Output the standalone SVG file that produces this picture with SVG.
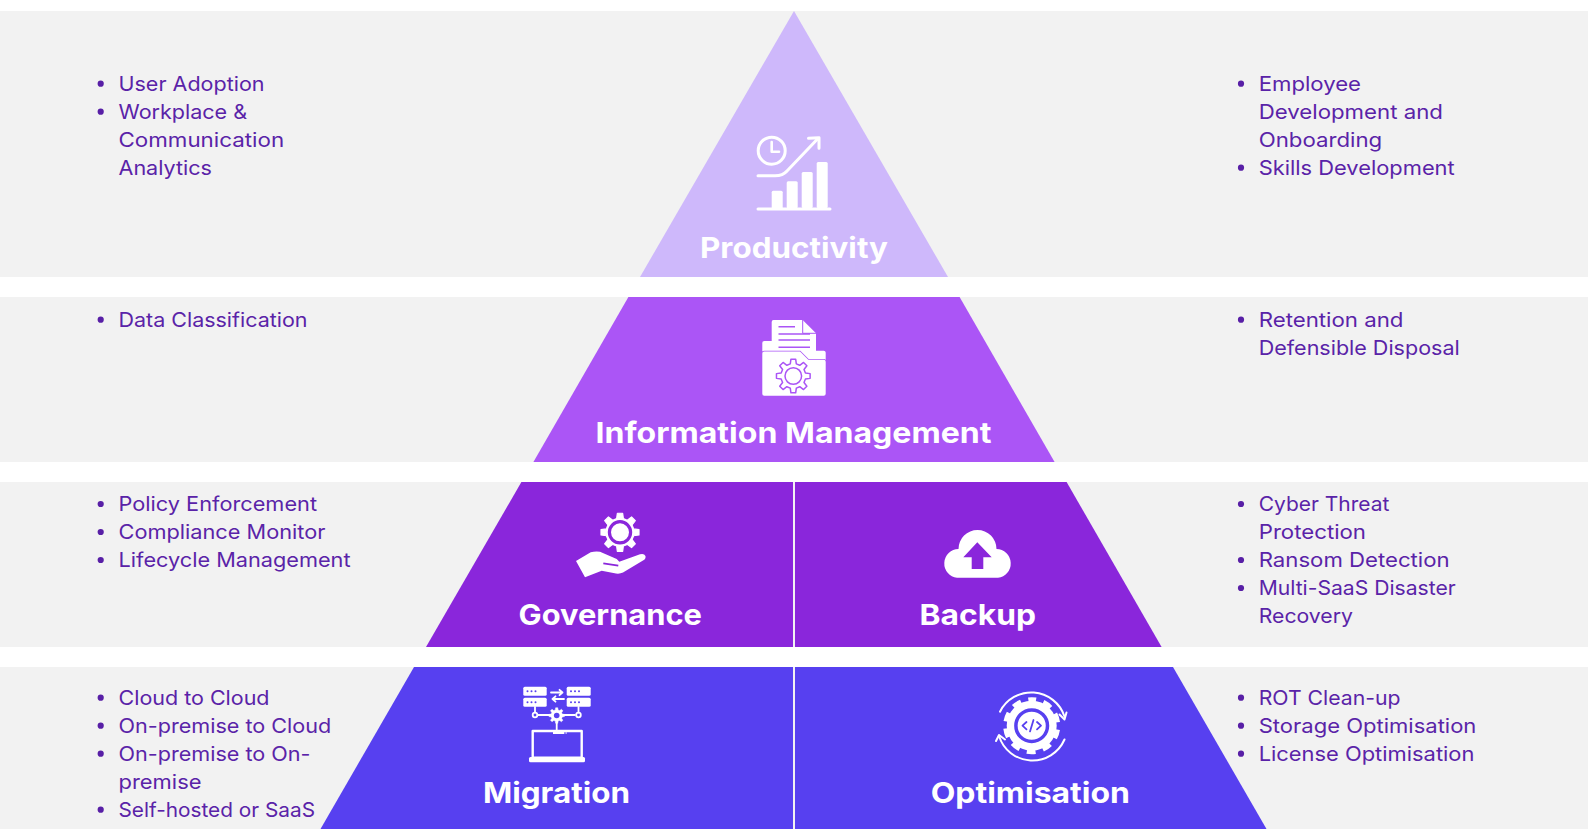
<svg xmlns="http://www.w3.org/2000/svg" width="1588" height="829" viewBox="0 0 1588 829">
<style>
.band{fill:#f2f2f2}
.b{fill:#581fa6}
.t{font-family:Inter,"Liberation Sans",sans-serif;font-size:20px;fill:#5a23a8}
.h{font-family:Inter,"Liberation Sans",sans-serif;font-size:29px;font-weight:700;fill:#fff}
.w{fill:#fff}
.sw{fill:none;stroke:#fff;stroke-linecap:round;stroke-linejoin:round}
</style>
<defs>
<path id="gear8" d="M-3.02-12.13L-2.37-16.83L2.37-16.83L3.02-12.13L6.44-10.71L10.23-13.58L13.58-10.23L10.71-6.44L12.13-3.02L16.83-2.37L16.83 2.37L12.13 3.02L10.71 6.44L13.58 10.23L10.23 13.58L6.44 10.71L3.02 12.13L2.37 16.83L-2.37 16.83L-3.02 12.13L-6.44 10.71L-10.23 13.58L-13.58 10.23L-10.71 6.44L-12.13 3.02L-16.83 2.37L-16.83-2.37L-12.13-3.02L-10.71-6.44L-13.58-10.23L-10.23-13.58L-6.44-10.71Z"/>
</defs>
<rect width="1588" height="829" fill="#fff"/>
<g id="bands">
<rect class="band" y="11" width="1588" height="266"/>
<rect class="band" y="297" width="1588" height="165"/>
<rect class="band" y="482" width="1588" height="165"/>
<rect class="band" y="667" width="1588" height="162"/>
</g>
<g id="productivity">
<path d="M794 11L948 277H640Z" fill="#ceb8fb"/>
<g class="sw" stroke-width="3">
<circle cx="771.7" cy="150.7" r="13.5"/>
<path d="M771.7 142V151.7H779" stroke-width="2.6"/>
<path d="M758 175.7H775Q783 175.7 787 171L817.5 139"/>
<path d="M808.5 138.3L819 137.7V148.3"/>
<path d="M758 209H830"/>
</g>
<g class="w">
<rect x="771.7" y="190.7" width="11" height="18" rx="1.5"/>
<rect x="786.7" y="181.3" width="11" height="27" rx="1.5"/>
<rect x="801.7" y="172" width="11" height="36" rx="1.5"/>
<rect x="816.7" y="162" width="11" height="46" rx="1.5"/>
</g>
<text class="h" x="700" y="258" textLength="188" lengthAdjust="spacingAndGlyphs">Productivity</text>
</g>
<g id="information-management">
<path d="M628.4 297H959.6L1054.6 462H533.4Z" fill="#ab55f6"/>
<rect class="w" x="762.3" y="341" width="12" height="20" rx="2"/>
<rect class="w" x="812" y="350.7" width="13.7" height="12" rx="2"/>
<path class="w" d="M773.5 320H802.7L816 333.3V362H771.7V322Q771.7 320 773.5 320Z"/>
<path d="M802.7 320V333.3H816" fill="none" stroke="#ab55f6" stroke-width="1"/>
<path d="M778.5 326.7H795M778.5 334H810M778.5 340H810M778.5 347.3H810" stroke="#ab55f6" stroke-width="1.6" fill="none"/>
<path class="w" d="M764.3 351.5H800L808.3 359.8H823.7Q825.7 359.8 825.7 361.8V393.7Q825.7 395.7 823.7 395.7H764.3Q762.3 395.7 762.3 393.7V353.5Q762.3 351.5 764.3 351.5Z" stroke="#ab55f6" stroke-width="1.6" paint-order="stroke"/>
<use href="#gear8" transform="translate(793.3 376)" fill="none" stroke="#ab55f6" stroke-width="1.5" stroke-linejoin="round"/>
<circle cx="793.3" cy="376" r="8.3" fill="none" stroke="#ab55f6" stroke-width="1.5"/>
<text class="h" x="595.5" y="443" textLength="396" lengthAdjust="spacingAndGlyphs">Information Management</text>
</g>
<g id="governance">
<path d="M521.4 482H793V647H426Z" fill="#8a26db"/>
<use href="#gear8" transform="translate(620 532.3) scale(1.13)" fill="#fff" stroke="#fff" stroke-width="1" stroke-linejoin="round"/>
<circle cx="620" cy="532.3" r="10.6" fill="none" stroke="#8a26db" stroke-width="3.2"/>
<path class="w" d="M576 561L590.7 552.3Q595 551 600 551.7L616.7 559L619.3 561.7L640 554.3Q644 553 645.5 556Q646 559 643 560.5L623 572.5Q620 574 616 573.5L601.7 570.7L585 577.3Z"/>
<path d="M603.3 563.3L618.3 565.7" stroke="#8a26db" stroke-width="1.8" fill="none"/>
<text class="h" x="518.5" y="625" textLength="183.5" lengthAdjust="spacingAndGlyphs">Governance</text>
</g>
<g id="backup">
<path d="M795 482H1066.6L1161.6 647H795Z" fill="#8a26db"/>
<path class="w" d="M957 577.7A14.4 14.4 0 0 1 958.5 549A19 19 0 0 1 996.5 549A14.4 14.4 0 0 1 998 577.7Z"/>
<path d="M977.3 542.3L991.7 557.3H983.3V569H971.7V557.3H963.3Z" fill="#8a26db"/>
<text class="h" x="919.6" y="625" textLength="116.4" lengthAdjust="spacingAndGlyphs">Backup</text>
</g>
<g id="migration">
<path d="M414 667H793V829H320.5Z" fill="#5740f0"/>
<g class="w">
<rect x="523.3" y="686.7" width="23.4" height="9" rx="1.5"/>
<rect x="523.3" y="697.7" width="23.4" height="9" rx="1.5"/>
<rect x="566.7" y="686.7" width="24" height="9" rx="1.5"/>
<rect x="566.7" y="697.7" width="24" height="9" rx="1.5"/>
<rect x="529" y="757" width="56" height="5.3" rx="1.5"/>
<rect x="553" y="731" width="13.5" height="3" />
</g>
<g fill="#5740f0">
<circle cx="527.5" cy="691.2" r="1"/><circle cx="531.5" cy="691.2" r="1"/><circle cx="535.5" cy="691.2" r="1"/>
<circle cx="527.5" cy="702.2" r="1"/><circle cx="531.5" cy="702.2" r="1"/><circle cx="535.5" cy="702.2" r="1"/>
<circle cx="571" cy="691.2" r="1"/><circle cx="575" cy="691.2" r="1"/><circle cx="579" cy="691.2" r="1"/>
<circle cx="571" cy="702.2" r="1"/><circle cx="575" cy="702.2" r="1"/><circle cx="579" cy="702.2" r="1"/>
<circle cx="565" cy="733" r="0.9"/>
</g>
<g class="sw" stroke-width="1.8">
<path d="M551 692.5H562.5M559.5 689.8L562.5 692.5L559.5 695.2M564 699H552.5M555.5 696.3L552.5 699L555.5 701.7"/>
<path d="M535 707V712.5M578.5 707V712.5M538 715H575M556.7 722V731" />
<circle cx="535" cy="715" r="2.3"/>
<circle cx="578.5" cy="715" r="2.3"/>
<rect x="532.7" y="731" width="49" height="26.7" stroke-width="2.4"/>
</g>
<use href="#gear8" transform="translate(556.7 715.5) scale(.46)" fill="#fff" stroke="#fff" stroke-width="1"/>
<circle cx="556.7" cy="715.5" r="2.8" fill="#5740f0"/>
<text class="h" x="483" y="803" textLength="147" lengthAdjust="spacingAndGlyphs">Migration</text>
</g>
<g id="optimisation">
<path d="M795 667H1173L1266.5 829H795Z" fill="#5740f0"/>
<circle cx="1031.7" cy="725.7" r="25" fill="#fff"/>
<circle cx="1031.7" cy="725.7" r="26.3" fill="none" stroke="#fff" stroke-width="4.5" stroke-dasharray="9 7.52" stroke-dashoffset="4.5" transform="rotate(-90 1031.7 725.7)"/>
<circle cx="1031.7" cy="725.7" r="15.8" fill="none" stroke="#5740f0" stroke-width="3.5"/>
<g class="sw" stroke-width="2">
<path d="M1000 711.7A35 35 0 0 1 1064.5 716.5"/>
<path d="M1064.5 739.5A35 35 0 0 1 999 736"/>
<path d="M1059.5 714.5L1064.5 719.5L1066.5 712.5"/>
<path d="M996 741L999 735L1005 739.5"/>
</g>
<path d="M1026.5 722L1022.5 725.7L1026.5 729.4M1037 722L1041 725.7L1037 729.4M1033.5 720L1030 731.4" fill="none" stroke="#5740f0" stroke-width="1.8" stroke-linecap="round" stroke-linejoin="round"/>
<text class="h" x="930.7" y="803" textLength="199.3" lengthAdjust="spacingAndGlyphs">Optimisation</text>
</g>
<g id="list-left" >
<g class="b">
<circle cx="100.7" cy="83.7" r="3.1"/><circle cx="100.7" cy="111.7" r="3.1"/>
<circle cx="100.7" cy="319.7" r="3.1"/>
<circle cx="100.7" cy="504" r="3.1"/><circle cx="100.7" cy="532" r="3.1"/><circle cx="100.7" cy="560" r="3.1"/>
<circle cx="100.7" cy="697.7" r="3.1"/><circle cx="100.7" cy="725.7" r="3.1"/><circle cx="100.7" cy="753.7" r="3.1"/><circle cx="100.7" cy="809.7" r="3.1"/>
</g>
<text class="t" x="118.5" y="91" textLength="146" lengthAdjust="spacingAndGlyphs">User Adoption</text>
<text class="t" x="118.5" y="119" textLength="128.6" lengthAdjust="spacingAndGlyphs">Workplace &amp;</text>
<text class="t" x="118.5" y="147" textLength="165.6" lengthAdjust="spacingAndGlyphs">Communication</text>
<text class="t" x="118.5" y="175" textLength="93.5" lengthAdjust="spacingAndGlyphs">Analytics</text>
<text class="t" x="118.5" y="327" textLength="189" lengthAdjust="spacingAndGlyphs">Data Classification</text>
<text class="t" x="118.5" y="511" textLength="198.5" lengthAdjust="spacingAndGlyphs">Policy Enforcement</text>
<text class="t" x="118.5" y="539" textLength="207" lengthAdjust="spacingAndGlyphs">Compliance Monitor</text>
<text class="t" x="118.5" y="567" textLength="232" lengthAdjust="spacingAndGlyphs">Lifecycle Management</text>
<text class="t" x="118.5" y="704.5" textLength="151" lengthAdjust="spacingAndGlyphs">Cloud to Cloud</text>
<text class="t" x="118.5" y="732.5" textLength="212.7" lengthAdjust="spacingAndGlyphs">On-premise to Cloud</text>
<text class="t" x="118.5" y="760.5" textLength="192" lengthAdjust="spacingAndGlyphs">On-premise to On-</text>
<text class="t" x="118.5" y="788.5" textLength="83" lengthAdjust="spacingAndGlyphs">premise</text>
<text class="t" x="118.5" y="816.5" textLength="196.5" lengthAdjust="spacingAndGlyphs">Self-hosted or SaaS</text>
</g>
<g id="list-right">
<g class="b">
<circle cx="1241" cy="83.7" r="3.1"/><circle cx="1241" cy="167.7" r="3.1"/>
<circle cx="1241" cy="319.7" r="3.1"/>
<circle cx="1241" cy="504" r="3.1"/><circle cx="1241" cy="560" r="3.1"/><circle cx="1241" cy="588" r="3.1"/>
<circle cx="1241" cy="697.7" r="3.1"/><circle cx="1241" cy="725.7" r="3.1"/><circle cx="1241" cy="753.7" r="3.1"/>
</g>
<text class="t" x="1258.7" y="91" textLength="102.3" lengthAdjust="spacingAndGlyphs">Employee</text>
<text class="t" x="1258.7" y="119" textLength="184.3" lengthAdjust="spacingAndGlyphs">Development and</text>
<text class="t" x="1258.7" y="147" textLength="123.5" lengthAdjust="spacingAndGlyphs">Onboarding</text>
<text class="t" x="1258.7" y="175" textLength="196" lengthAdjust="spacingAndGlyphs">Skills Development</text>
<text class="t" x="1258.7" y="327" textLength="144.8" lengthAdjust="spacingAndGlyphs">Retention and</text>
<text class="t" x="1258.7" y="355" textLength="201" lengthAdjust="spacingAndGlyphs">Defensible Disposal</text>
<text class="t" x="1258.7" y="511" textLength="130.6" lengthAdjust="spacingAndGlyphs">Cyber Threat</text>
<text class="t" x="1258.7" y="539" textLength="107.3" lengthAdjust="spacingAndGlyphs">Protection</text>
<text class="t" x="1258.7" y="567" textLength="190.9" lengthAdjust="spacingAndGlyphs">Ransom Detection</text>
<text class="t" x="1258.7" y="595" textLength="197" lengthAdjust="spacingAndGlyphs">Multi-SaaS Disaster</text>
<text class="t" x="1258.7" y="623" textLength="94.2" lengthAdjust="spacingAndGlyphs">Recovery</text>
<text class="t" x="1258.7" y="704.5" textLength="141.8" lengthAdjust="spacingAndGlyphs">ROT Clean-up</text>
<text class="t" x="1258.7" y="732.5" textLength="217.7" lengthAdjust="spacingAndGlyphs">Storage Optimisation</text>
<text class="t" x="1258.7" y="760.5" textLength="215.7" lengthAdjust="spacingAndGlyphs">License Optimisation</text>
</g>
</svg>
